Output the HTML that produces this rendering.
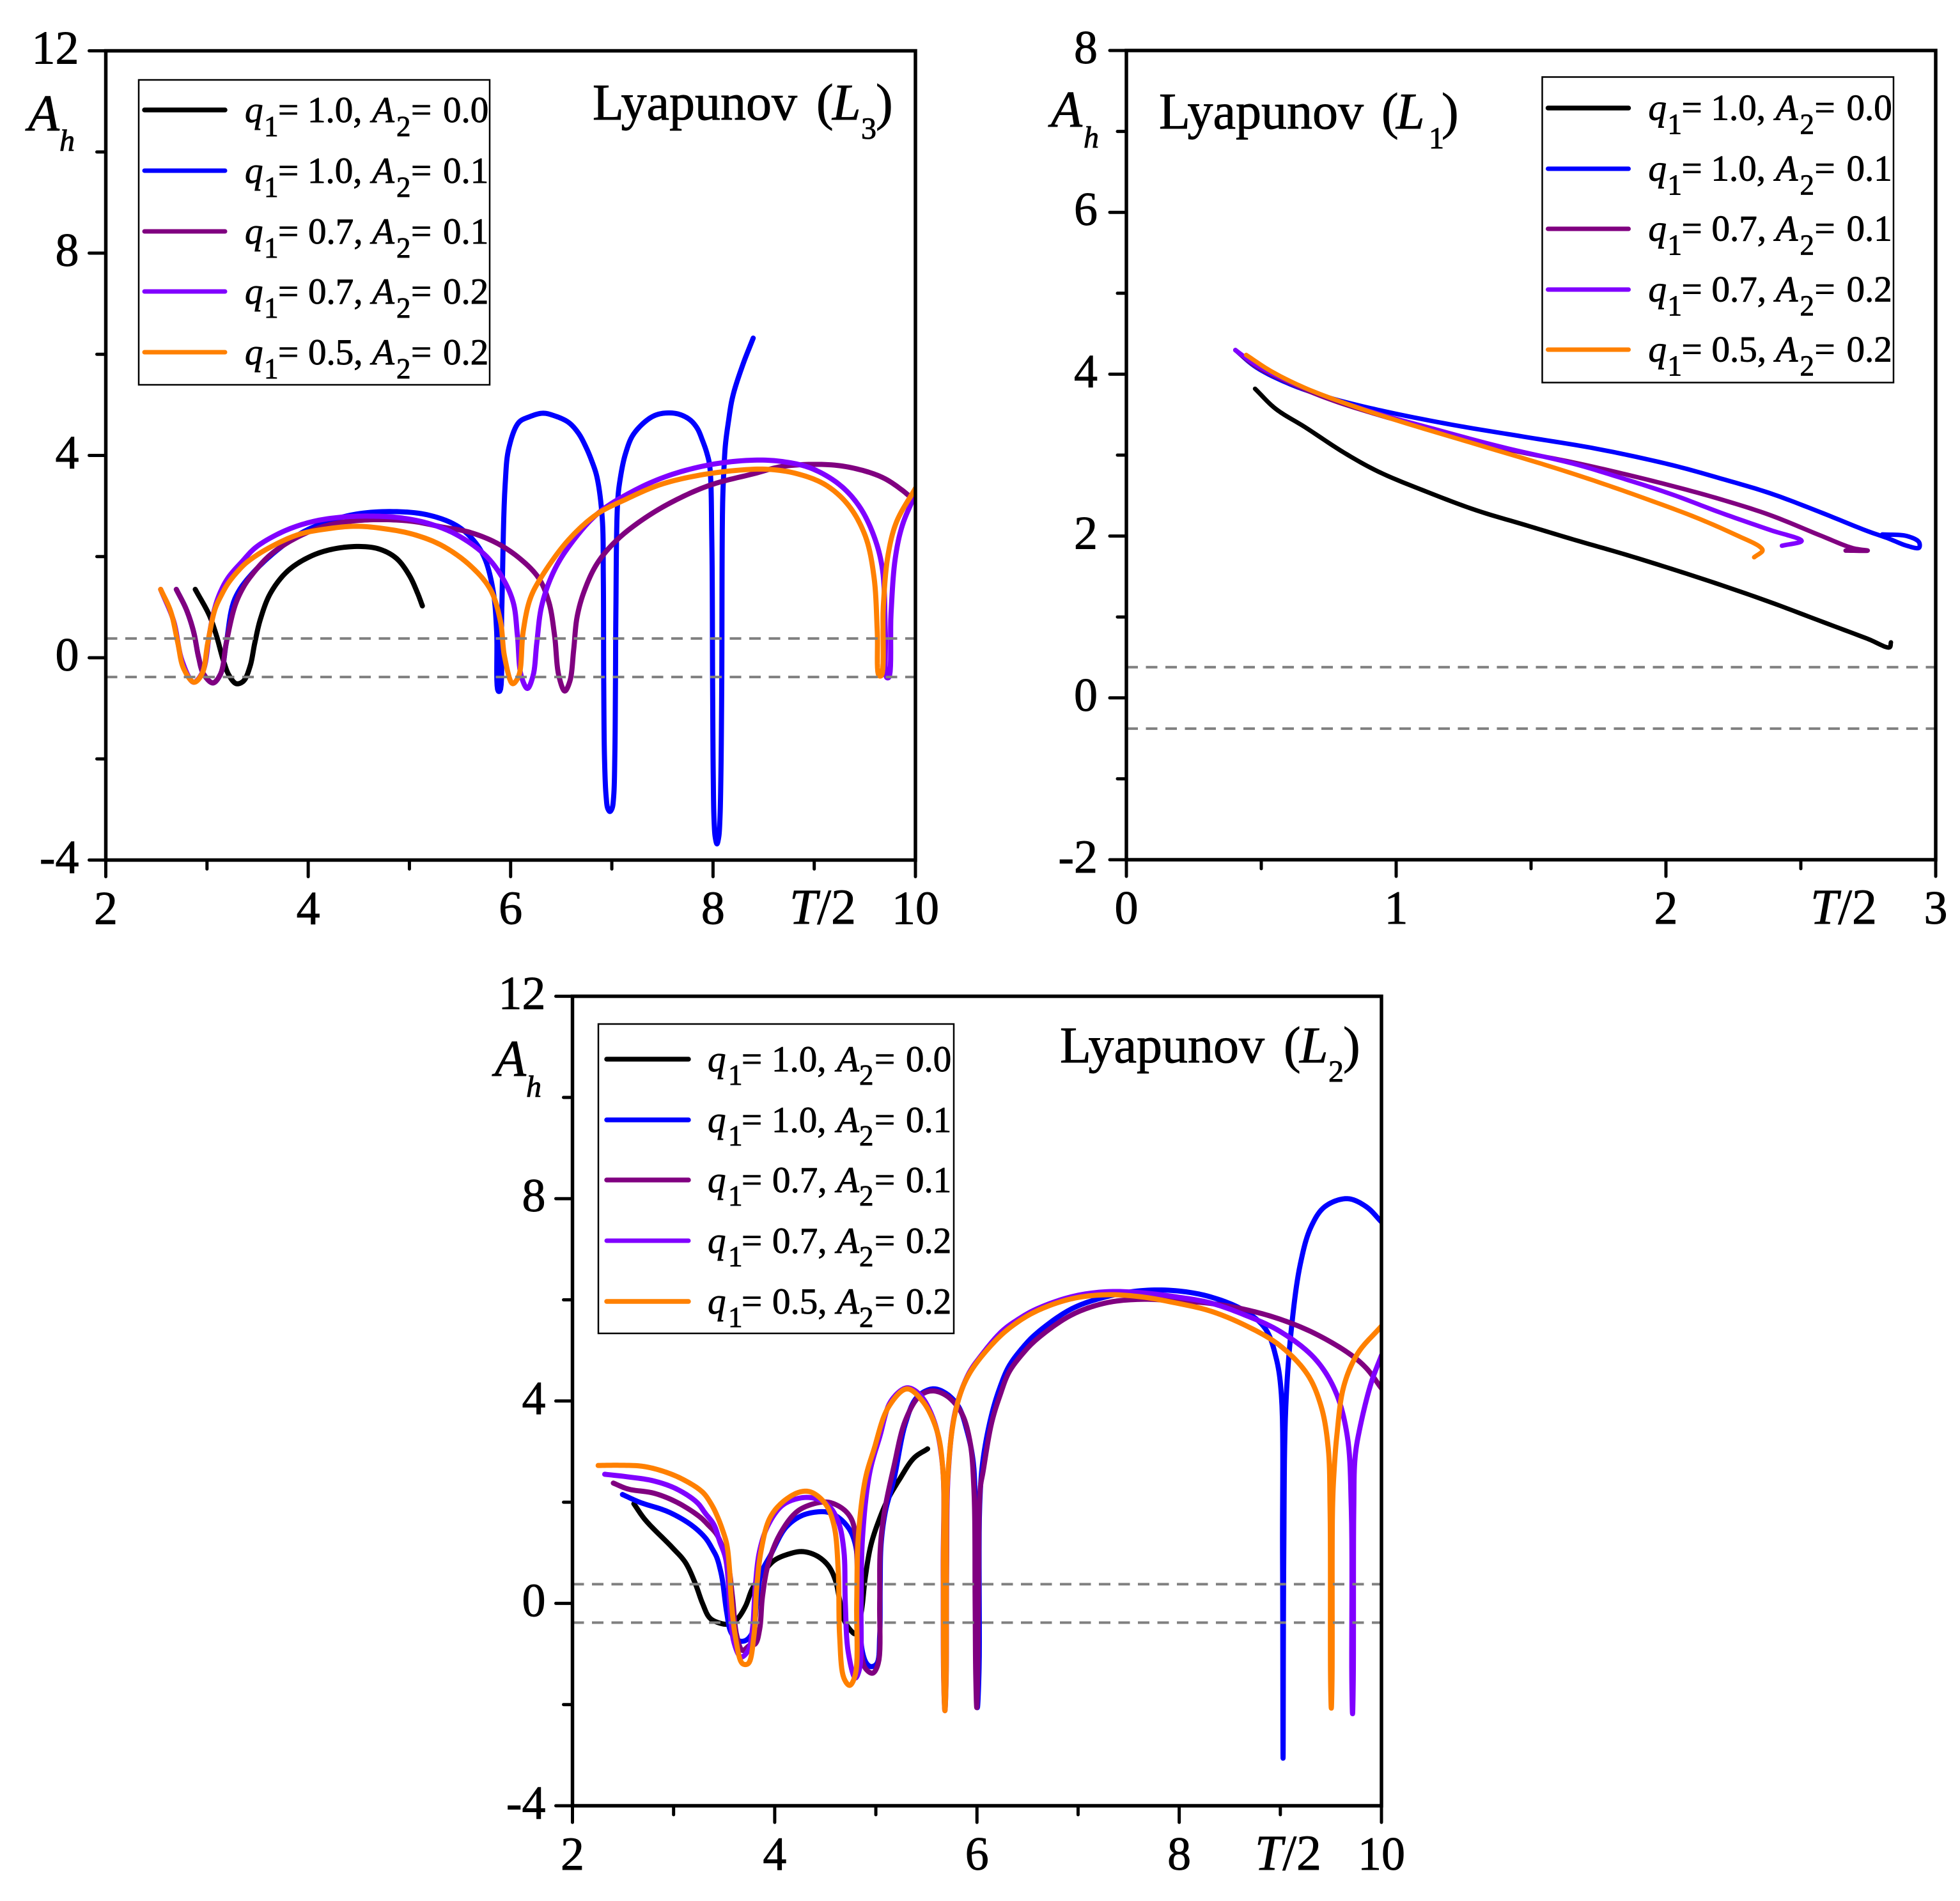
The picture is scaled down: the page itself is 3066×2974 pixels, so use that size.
<!DOCTYPE html>
<html lang="en">
<head>
<meta charset="utf-8">
<title>Lyapunov orbits amplitude charts</title>
<style>
html,body{margin:0;padding:0;background:#fff;}
svg{display:block;}
text{font-family:"Liberation Serif",serif;fill:#000;stroke:#000;stroke-width:0.9px;}
.tick{font-size:74px;}
.xt{font-size:78px;}
.lg{font-size:57px;}
.ttl{font-size:80px;}
.ah{font-size:80px;font-style:italic;}
.i{font-style:italic;}
.s{font-size:45px;}
.s48{font-size:48px;}
</style>
</head>
<body>
<svg id="figure" xmlns="http://www.w3.org/2000/svg" width="3066" height="2974" viewBox="0 0 3066 2974">
<rect x="0" y="0" width="3066" height="2974" fill="#fff"/>
<g id="panel-L3"></g>
<g id="panel-L1"></g>
<g id="panel-L2"></g>

<!-- Panel L3 static labels -->
<g>
<text class="ttl" y="187"><tspan x="927">Lyapunov</tspan><tspan x="1277">(</tspan><tspan class="i" x="1302">L</tspan><tspan class="s48" x="1347" dy="30">3</tspan><tspan x="1370" dy="-30">)</tspan></text>
<text class="ah" x="44" y="204">A</text>
<text class="ah s48" x="93" y="236">h</text>
<text class="xt" x="1235" y="1445"><tspan class="i">T</tspan>/2</text>
</g>
<g transform="translate(217,125)">
<rect x="0" y="0" width="549" height="477" fill="#fff" stroke="#000" stroke-width="2.5"/>
<line x1="9" x2="135" y1="47" y2="47" stroke="#000" stroke-width="7.5" stroke-linecap="round"/>
<text class="lg" y="66"><tspan class="i" x="166">q</tspan><tspan class="s" x="196" dy="22">1</tspan><tspan x="218" dy="-22">=</tspan><tspan x="264">1.0,</tspan><tspan class="i" x="365">A</tspan><tspan class="s" x="403" dy="22">2</tspan><tspan x="426" dy="-22">=</tspan><tspan x="476">0.0</tspan></text>
<line x1="9" x2="135" y1="142" y2="142" stroke="#0000ff" stroke-width="7" stroke-linecap="round"/>
<text class="lg" y="161"><tspan class="i" x="166">q</tspan><tspan class="s" x="196" dy="22">1</tspan><tspan x="218" dy="-22">=</tspan><tspan x="264">1.0,</tspan><tspan class="i" x="365">A</tspan><tspan class="s" x="403" dy="22">2</tspan><tspan x="426" dy="-22">=</tspan><tspan x="476">0.1</tspan></text>
<line x1="9" x2="135" y1="237" y2="237" stroke="#800080" stroke-width="7" stroke-linecap="round"/>
<text class="lg" y="256"><tspan class="i" x="166">q</tspan><tspan class="s" x="196" dy="22">1</tspan><tspan x="218" dy="-22">=</tspan><tspan x="265">0.7,</tspan><tspan class="i" x="365">A</tspan><tspan class="s" x="403" dy="22">2</tspan><tspan x="426" dy="-22">=</tspan><tspan x="476">0.1</tspan></text>
<line x1="9" x2="135" y1="331" y2="331" stroke="#8000ff" stroke-width="7" stroke-linecap="round"/>
<text class="lg" y="350"><tspan class="i" x="166">q</tspan><tspan class="s" x="196" dy="22">1</tspan><tspan x="218" dy="-22">=</tspan><tspan x="265">0.7,</tspan><tspan class="i" x="365">A</tspan><tspan class="s" x="403" dy="22">2</tspan><tspan x="426" dy="-22">=</tspan><tspan x="476">0.2</tspan></text>
<line x1="9" x2="135" y1="426" y2="426" stroke="#ff8000" stroke-width="7" stroke-linecap="round"/>
<text class="lg" y="445"><tspan class="i" x="166">q</tspan><tspan class="s" x="196" dy="22">1</tspan><tspan x="218" dy="-22">=</tspan><tspan x="265">0.5,</tspan><tspan class="i" x="365">A</tspan><tspan class="s" x="403" dy="22">2</tspan><tspan x="426" dy="-22">=</tspan><tspan x="476">0.2</tspan></text>
</g>

<!-- Panel L1 static labels -->
<g>
<text class="ttl" y="201"><tspan x="1813">Lyapunov</tspan><tspan x="2161">(</tspan><tspan class="i" x="2184">L</tspan><tspan class="s48" x="2235" dy="31">1</tspan><tspan x="2255" dy="-31">)</tspan></text>
<text class="ah" x="1644" y="198">A</text>
<text class="ah s48" x="1695" y="231">h</text>
<text class="xt" x="2832" y="1445"><tspan class="i">T</tspan>/2</text>
</g>
<g transform="translate(2412.5,120.5)">
<rect x="0" y="0" width="549.5" height="478" fill="#fff" stroke="#000" stroke-width="2.5"/>
<line x1="9" x2="135" y1="48.5" y2="48.5" stroke="#000" stroke-width="7.5" stroke-linecap="round"/>
<text class="lg" y="67"><tspan class="i" x="166">q</tspan><tspan class="s" x="196" dy="22">1</tspan><tspan x="218" dy="-22">=</tspan><tspan x="264">1.0,</tspan><tspan class="i" x="365">A</tspan><tspan class="s" x="403" dy="22">2</tspan><tspan x="426" dy="-22">=</tspan><tspan x="476">0.0</tspan></text>
<line x1="9" x2="135" y1="143.5" y2="143.5" stroke="#0000ff" stroke-width="7" stroke-linecap="round"/>
<text class="lg" y="162"><tspan class="i" x="166">q</tspan><tspan class="s" x="196" dy="22">1</tspan><tspan x="218" dy="-22">=</tspan><tspan x="264">1.0,</tspan><tspan class="i" x="365">A</tspan><tspan class="s" x="403" dy="22">2</tspan><tspan x="426" dy="-22">=</tspan><tspan x="476">0.1</tspan></text>
<line x1="9" x2="135" y1="237.5" y2="237.5" stroke="#800080" stroke-width="7" stroke-linecap="round"/>
<text class="lg" y="256"><tspan class="i" x="166">q</tspan><tspan class="s" x="196" dy="22">1</tspan><tspan x="218" dy="-22">=</tspan><tspan x="265">0.7,</tspan><tspan class="i" x="365">A</tspan><tspan class="s" x="403" dy="22">2</tspan><tspan x="426" dy="-22">=</tspan><tspan x="476">0.1</tspan></text>
<line x1="9" x2="135" y1="332.5" y2="332.5" stroke="#8000ff" stroke-width="7" stroke-linecap="round"/>
<text class="lg" y="351"><tspan class="i" x="166">q</tspan><tspan class="s" x="196" dy="22">1</tspan><tspan x="218" dy="-22">=</tspan><tspan x="265">0.7,</tspan><tspan class="i" x="365">A</tspan><tspan class="s" x="403" dy="22">2</tspan><tspan x="426" dy="-22">=</tspan><tspan x="476">0.2</tspan></text>
<line x1="9" x2="135" y1="426.5" y2="426.5" stroke="#ff8000" stroke-width="7" stroke-linecap="round"/>
<text class="lg" y="445"><tspan class="i" x="166">q</tspan><tspan class="s" x="196" dy="22">1</tspan><tspan x="218" dy="-22">=</tspan><tspan x="265">0.5,</tspan><tspan class="i" x="365">A</tspan><tspan class="s" x="403" dy="22">2</tspan><tspan x="426" dy="-22">=</tspan><tspan x="476">0.2</tspan></text>
</g>

<!-- Panel L2 static labels -->
<g>
<text class="ttl" y="1662"><tspan x="1658">Lyapunov</tspan><tspan x="2008">(</tspan><tspan class="i" x="2033">L</tspan><tspan class="s48" x="2078" dy="30">2</tspan><tspan x="2101" dy="-30">)</tspan></text>
<text class="ah" x="774" y="1683">A</text>
<text class="ah s48" x="823" y="1716">h</text>
<text class="xt" x="1963" y="2925"><tspan class="i">T</tspan>/2</text>
</g>
<g transform="translate(936,1602)">
<rect x="0" y="0" width="556" height="484" fill="#fff" stroke="#000" stroke-width="2.5"/>
<line x1="13" x2="141" y1="55" y2="55" stroke="#000" stroke-width="7.5" stroke-linecap="round"/>
<text class="lg" y="74"><tspan class="i" x="171">q</tspan><tspan class="s" x="203" dy="21">1</tspan><tspan x="224" dy="-21">=</tspan><tspan x="271">1.0,</tspan><tspan class="i" x="373">A</tspan><tspan class="s" x="408" dy="21">2</tspan><tspan x="432" dy="-21">=</tspan><tspan x="481">0.0</tspan></text>
<line x1="13" x2="141" y1="150" y2="150" stroke="#0000ff" stroke-width="7.5" stroke-linecap="round"/>
<text class="lg" y="169"><tspan class="i" x="171">q</tspan><tspan class="s" x="203" dy="21">1</tspan><tspan x="224" dy="-21">=</tspan><tspan x="271">1.0,</tspan><tspan class="i" x="373">A</tspan><tspan class="s" x="408" dy="21">2</tspan><tspan x="432" dy="-21">=</tspan><tspan x="481">0.1</tspan></text>
<line x1="13" x2="141" y1="244" y2="244" stroke="#800080" stroke-width="7.5" stroke-linecap="round"/>
<text class="lg" y="263"><tspan class="i" x="171">q</tspan><tspan class="s" x="203" dy="21">1</tspan><tspan x="224" dy="-21">=</tspan><tspan x="272">0.7,</tspan><tspan class="i" x="373">A</tspan><tspan class="s" x="408" dy="21">2</tspan><tspan x="432" dy="-21">=</tspan><tspan x="481">0.1</tspan></text>
<line x1="13" x2="141" y1="339" y2="339" stroke="#8000ff" stroke-width="7" stroke-linecap="round"/>
<text class="lg" y="358"><tspan class="i" x="171">q</tspan><tspan class="s" x="203" dy="21">1</tspan><tspan x="224" dy="-21">=</tspan><tspan x="272">0.7,</tspan><tspan class="i" x="373">A</tspan><tspan class="s" x="408" dy="21">2</tspan><tspan x="432" dy="-21">=</tspan><tspan x="481">0.2</tspan></text>
<line x1="13" x2="141" y1="434" y2="434" stroke="#ff8000" stroke-width="7.5" stroke-linecap="round"/>
<text class="lg" y="453"><tspan class="i" x="171">q</tspan><tspan class="s" x="203" dy="21">1</tspan><tspan x="224" dy="-21">=</tspan><tspan x="272">0.5,</tspan><tspan class="i" x="373">A</tspan><tspan class="s" x="408" dy="21">2</tspan><tspan x="432" dy="-21">=</tspan><tspan x="481">0.2</tspan></text>
</g>
</svg>

<script>
/* ---------- Tick values ---------- */
const xMajor10 = [2, 4, 6, 8, 10];
const xMinor10 = [3, 5, 7, 9];
const yMajor12 = [-4, 0, 4, 8, 12];
const yMinor12 = [-2, 2, 6, 10];
const xMajor3 = [0, 1, 2, 3];
const xMinor3 = [0.5, 1.5, 2.5];
const yMajor8 = [-2, 0, 2, 4, 6, 8];
const yMinor8 = [-1, 1, 3, 5, 7];
const thresholdValues = [0.38, -0.38];

/* ---------- Panel L3 series ---------- */
const L3_black_T = [2.884,3.022,3.092,3.163,3.219,3.29,3.36,3.425,3.473,3.529,3.628,3.797,4.023,4.248,4.502,4.70,4.869,4.996,5.08,5.128];
const L3_black_A = [1.352,0.844,0.445,-0.063,-0.353,-0.513,-0.462,-0.172,0.30,0.772,1.28,1.715,2.005,2.15,2.2,2.15,1.97,1.64,1.28,1.026];

const L3_blue_T = [2.697,2.796,2.867,2.917,2.965,3.058,3.135,3.191,3.276,3.487,3.91,4.192,4.474,4.84,5.18,5.46,5.63,5.743,5.828,5.862,5.878,5.893,5.912,5.946,5.983,6.08,6.18,6.318,6.431,6.572,6.67,6.741,6.8,6.854,6.905,6.916,6.92,6.928,6.944,6.96,6.981,7.002,7.018,7.03,7.036,7.04,7.057,7.08,7.136,7.22,7.418,7.615,7.757,7.84,7.897,7.94,7.968,7.988,7.996,8.002,8.01,8.022,8.039,8.056,8.068,8.078,8.086,8.095,8.109,8.123,8.151,8.194,8.292,8.397];
const L3_blue_A = [1.352,0.953,0.518,0.01,-0.317,-0.498,-0.317,0.30,1.17,1.75,2.44,2.69,2.84,2.89,2.825,2.62,2.33,1.97,1.315,0.52,-0.66,-0.66,0.88,3.42,4.15,4.65,4.76,4.835,4.785,4.654,4.44,4.18,3.9,3.565,2.77,1.6,-0.5,-2.0,-2.75,-2.98,-3.04,-2.98,-2.75,-1.9,-0.5,0.88,3.06,3.5,4.04,4.436,4.785,4.835,4.727,4.55,4.29,4.04,3.78,2.33,-0.57,-2.3,-3.2,-3.55,-3.68,-3.55,-3.2,-2.3,-0.57,3.06,3.78,4.22,4.65,5.16,5.78,6.32];

const L3_purple_T = [2.697,2.796,2.867,2.917,2.965,3.058,3.135,3.191,3.276,3.35,3.431,3.628,3.91,4.192,4.474,4.756,5.038,5.32,5.602,5.884,6.11,6.279,6.378,6.434,6.476,6.535,6.586,6.623,6.657,6.727,6.854,7.051,7.333,7.644,7.982,8.405,8.687,9.11,9.392,9.674,9.871,9.998];
const L3_purple_A = [1.352,0.953,0.518,0.01,-0.317,-0.498,-0.317,0.30,1.026,1.36,1.606,2.04,2.40,2.62,2.71,2.73,2.695,2.586,2.477,2.245,1.93,1.57,1.1,0.445,-0.353,-0.658,-0.46,0.155,0.808,1.316,1.86,2.33,2.77,3.13,3.42,3.64,3.783,3.82,3.747,3.565,3.31,3.09];

const L3_violet_T = [2.542,2.669,2.754,2.867,2.957,3.022,3.064,3.12,3.205,3.346,3.487,3.769,4.051,4.333,4.615,4.897,5.18,5.46,5.743,5.912,6.025,6.067,6.104,6.166,6.222,6.259,6.307,6.42,6.572,6.854,7.192,7.559,7.982,8.405,8.687,8.969,9.251,9.448,9.59,9.674,9.702,9.716,9.736,9.759,9.801,9.871,10];
const L3_violet_A = [1.352,0.735,-0.063,-0.484,-0.28,0.445,0.88,1.24,1.57,1.9,2.19,2.51,2.695,2.78,2.80,2.77,2.66,2.44,2.04,1.606,1.1,0.445,-0.353,-0.607,-0.353,0.30,1.026,1.68,2.19,2.84,3.275,3.6,3.82,3.907,3.878,3.747,3.42,2.985,2.405,1.75,0.517,-0.39,-0.39,0.88,1.97,2.62,3.24];

const L3_orange_T = [2.542,2.641,2.711,2.768,2.872,2.951,3.008,3.078,3.14,3.205,3.30,3.402,3.628,3.91,4.192,4.474,4.756,5.038,5.32,5.602,5.8,5.898,5.941,6.02,6.081,6.124,6.194,6.307,6.572,6.854,7.136,7.474,7.841,8.264,8.546,8.828,9.11,9.336,9.505,9.59,9.623,9.64,9.663,9.683,9.73,9.815,10];
const L3_orange_A = [1.352,0.917,0.30,-0.208,-0.484,-0.317,0.30,0.953,1.23,1.46,1.70,1.9,2.19,2.44,2.55,2.6,2.55,2.44,2.22,1.82,1.35,0.735,0.01,-0.513,-0.353,0.518,1.17,1.606,2.33,2.84,3.13,3.42,3.6,3.71,3.725,3.64,3.42,3.02,2.405,1.606,0.517,-0.353,-0.353,1.026,2.04,2.695,3.35];

/* ---------- Panel L1 series ---------- */
const L1_black_T = [0.477,0.553,0.662,0.807,0.934,1.115,1.297,1.478,1.659,1.841,2.022,2.203,2.385,2.566,2.747,2.829,2.834];
const L1_black_A = [3.82,3.573,3.346,3.03,2.796,2.545,2.318,2.137,1.955,1.78,1.593,1.396,1.185,0.958,0.731,0.625,0.686];

const L1_blue_T = [0.404,0.48,0.607,0.753,0.934,1.206,1.478,1.75,2.022,2.203,2.385,2.566,2.747,2.82,2.893,2.938,2.938,2.893,2.802];
const L1_blue_A = [4.298,4.087,3.875,3.709,3.558,3.376,3.225,3.074,2.877,2.711,2.53,2.303,2.061,1.976,1.88,1.855,1.925,2.0,2.02];

const L1_purple_T = [0.404,0.48,0.607,0.753,0.934,1.115,1.387,1.659,1.841,2.022,2.203,2.385,2.566,2.693,2.748,2.666];
const L1_purple_A = [4.298,4.1,3.89,3.69,3.497,3.33,3.09,2.908,2.77,2.62,2.454,2.26,2.016,1.85,1.82,1.82];

const L1_violet_T = [0.404,0.48,0.607,0.753,0.934,1.115,1.387,1.659,1.841,2.022,2.203,2.385,2.503,2.43];
const L1_violet_A = [4.298,4.117,3.905,3.709,3.512,3.346,3.104,2.892,2.711,2.515,2.288,2.076,1.94,1.88];

const L1_orange_T = [0.444,0.535,0.662,0.843,1.025,1.297,1.569,1.75,1.931,2.113,2.258,2.349,2.358,2.327];
const L1_orange_A = [4.238,4.04,3.83,3.603,3.406,3.134,2.862,2.666,2.454,2.227,2.016,1.865,1.82,1.738];

/* ---------- Panel L2 series ---------- */
const L2_black_T = [2.607,2.72,2.989,3.116,3.215,3.286,3.356,3.441,3.54,3.625,3.71,3.78,3.879,3.992,4.133,4.274,4.416,4.529,4.6,4.642,4.684,4.755,4.797,4.854,4.896,4.953,5.038,5.122,5.235,5.377,5.512];
const L2_black_A = [1.97,1.65,1.1,0.81,0.39,0.0,-0.284,-0.38,-0.41,-0.317,-0.06,0.296,0.586,0.844,0.972,1.024,0.94,0.747,0.457,0.07,-0.317,-0.542,-0.6,-0.19,0.52,1.166,1.68,2.07,2.455,2.874,3.054];

const L2_blue_T = [2.494,2.664,2.947,3.173,3.314,3.385,3.427,3.46,3.483,3.526,3.568,3.639,3.71,3.78,3.823,3.865,3.964,4.105,4.246,4.388,4.529,4.642,4.741,4.797,4.826,4.84,4.868,4.91,4.953,5.01,5.038,5.043,5.052,5.094,5.179,5.292,5.405,5.56,5.687,5.815,5.9,5.964,5.984,5.99,6.004,6.021,6.027,6.06,6.145,6.231,6.317,6.454,6.591,6.934,7.277,7.62,7.963,8.306,8.649,8.855,8.958,9.01,9.022,9.027,9.034,9.054,9.113,9.198,9.301,9.439,9.662,9.85,10];
const L2_blue_A = [2.152,2.0,1.81,1.553,1.295,1.07,0.908,0.68,0.457,-0.187,-0.574,-0.735,-0.735,-0.574,0.006,0.586,0.973,1.488,1.714,1.8,1.8,1.68,1.456,1.166,0.65,-0.32,-0.96,-1.19,-1.25,-1.19,-0.64,0.33,1.166,1.81,2.455,3.55,4.07,4.24,4.16,3.9,3.42,2.78,1.29,-1.28,-2.06,-1.28,1.94,2.84,3.73,4.29,4.69,5.06,5.34,5.82,6.06,6.18,6.18,6.06,5.78,5.42,4.855,4.13,1.0,-3.06,1.0,3.89,5.5,6.71,7.43,7.84,8.0,7.84,7.54];

const L2_purple_T = [2.404,2.551,2.805,3.031,3.257,3.342,3.427,3.498,3.54,3.582,3.625,3.681,3.752,3.808,3.851,3.879,3.936,4.049,4.218,4.388,4.529,4.67,4.755,4.797,4.826,4.854,4.896,4.967,5.023,5.038,5.043,5.08,5.179,5.292,5.433,5.56,5.702,5.843,5.928,5.97,5.982,5.988,5.998,6.008,6.014,6.032,6.06,6.145,6.231,6.317,6.454,6.591,6.934,7.277,7.62,7.963,8.306,8.649,8.993,9.336,9.679,9.85,10];
const L2_purple_A = [2.378,2.26,2.178,2.0,1.714,1.55,1.36,1.04,0.78,0.135,-0.64,-0.93,-0.83,-0.8,-0.51,0.135,0.78,1.36,1.81,1.97,2.0,1.875,1.68,1.36,0.005,-0.96,-1.28,-1.38,-1.19,0.005,1.04,1.75,2.71,3.615,4.1,4.2,4.1,3.78,3.23,2.26,0.005,-1.4,-2.06,-1.4,0.005,2.26,2.6,3.57,4.13,4.57,4.94,5.22,5.7,5.94,6.01,5.98,5.93,5.81,5.62,5.34,4.94,4.65,4.25];

const L2_violet_T = [2.319,2.551,2.805,3.031,3.229,3.314,3.399,3.455,3.512,3.54,3.554,3.597,3.667,3.738,3.78,3.808,3.851,3.936,4.077,4.246,4.388,4.529,4.628,4.684,4.698,4.727,4.797,4.84,4.854,4.868,4.939,5.038,5.15,5.306,5.433,5.574,5.66,5.666,5.671,5.683,5.695,5.70,5.716,5.786,5.913,6.042,6.248,6.42,6.591,6.934,7.277,7.62,7.963,8.306,8.649,8.993,9.336,9.541,9.661,9.702,9.707,9.714,9.721,9.726,9.74,9.788,9.9,10];
const L2_violet_A = [2.552,2.5,2.42,2.26,2.0,1.78,1.553,1.23,0.908,0.457,0.006,-0.77,-1.06,-0.93,-0.51,0.33,1.04,1.553,1.94,2.08,2.08,1.94,1.617,1.04,0.006,-0.96,-1.475,-1.28,0.006,1.295,2.58,3.29,4.0,4.26,4.13,3.615,2.71,0.65,-1.5,-2.12,-1.5,0.65,2.58,3.8,4.52,4.9,5.38,5.63,5.82,6.06,6.16,6.14,6.06,5.94,5.7,5.38,4.85,4.21,3.32,1.87,-1.5,-2.18,-1.5,1.87,2.9,3.48,4.37,4.9];

const L2_orange_T = [2.254,2.466,2.692,2.89,3.088,3.286,3.37,3.427,3.483,3.526,3.554,3.568,3.61,3.681,3.738,3.794,3.823,3.865,3.95,4.077,4.246,4.359,4.5,4.585,4.628,4.642,4.684,4.741,4.797,4.811,4.826,4.896,4.981,5.122,5.306,5.461,5.603,5.665,5.668,5.672,5.683,5.694,5.698,5.71,5.786,5.913,6.168,6.36,6.591,6.934,7.277,7.62,7.963,8.306,8.649,8.993,9.267,9.404,9.473,9.492,9.497,9.504,9.511,9.516,9.531,9.559,9.627,9.765,10];
const L2_orange_A = [2.726,2.73,2.71,2.616,2.455,2.2,1.97,1.746,1.456,1.166,0.65,0.135,-0.64,-1.19,-1.19,-0.64,0.33,1.04,1.68,2.0,2.2,2.2,1.97,1.553,0.65,-0.64,-1.475,-1.62,-1.41,0.006,1.295,2.455,3.04,3.87,4.24,4.0,3.42,2.58,0.65,-1.5,-2.12,-1.5,0.65,2.455,3.78,4.5,5.16,5.5,5.78,6.02,6.1,6.06,5.94,5.78,5.5,5.1,4.53,3.89,3.08,1.87,-1.5,-2.07,-1.5,1.87,2.6,3.32,4.29,4.94,5.48];

/* ---------- Series styling (order = drawing order) ---------- */
const seriesNames = ['q1-1.0-a2-0.0', 'q1-1.0-a2-0.1', 'q1-0.7-a2-0.1', 'q1-0.7-a2-0.2', 'q1-0.5-a2-0.2'];
const seriesColors = ['#000000', '#0000ff', '#800080', '#8000ff', '#ff8000'];

const SVGNS = 'http://www.w3.org/2000/svg';

/* Centripetal Catmull-Rom through pixel points */
function smoothPath(pts) {
  let d = 'M' + pts[0][0].toFixed(2) + ' ' + pts[0][1].toFixed(2);
  const n = pts.length;
  for (let i = 0; i < n - 1; i++) {
    const p1 = pts[i], p2 = pts[i + 1];
    const p0 = i > 0 ? pts[i - 1] : [2 * p1[0] - p2[0], 2 * p1[1] - p2[1]];
    const p3 = i + 2 < n ? pts[i + 2] : [2 * p2[0] - p1[0], 2 * p2[1] - p1[1]];
    const gap = (a, b) => Math.max(Math.sqrt(Math.hypot(a[0] - b[0], a[1] - b[1])), 1e-3);
    const t0 = 0, t1 = t0 + gap(p0, p1), t2 = t1 + gap(p1, p2), t3 = t2 + gap(p2, p3);
    const mix = (a, b, ta, tb, t) => [
      ((tb - t) * a[0] + (t - ta) * b[0]) / (tb - ta),
      ((tb - t) * a[1] + (t - ta) * b[1]) / (tb - ta)
    ];
    const steps = 10;
    for (let k = 1; k <= steps; k++) {
      const t = t1 + (t2 - t1) * k / steps;
      const a1 = mix(p0, p1, t0, t1, t);
      const a2 = mix(p1, p2, t1, t2, t);
      const a3 = mix(p2, p3, t2, t3, t);
      const b1 = mix(a1, a2, t0, t2, t);
      const b2 = mix(a2, a3, t1, t3, t);
      const c = mix(b1, b2, t1, t2, t);
      d += 'L' + c[0].toFixed(2) + ' ' + c[1].toFixed(2);
    }
  }
  return d;
}

function drawPanel(cfg) {
  const host = document.getElementById(cfg.host);
  const xScale = v => cfg.left + (v - cfg.xMin) / (cfg.xMax - cfg.xMin) * (cfg.right - cfg.left);
  const yScale = v => cfg.bottom - (v - cfg.yMin) / (cfg.yMax - cfg.yMin) * (cfg.bottom - cfg.top);

  /* series */
  cfg.series.forEach((s, i) => {
    const pts = [];
    const len = Math.min(s.T.length, s.A.length);
    for (let j = 0; j < len; j++) pts.push([xScale(s.T[j]), yScale(s.A[j])]);
    const path = document.createElementNS(SVGNS, 'path');
    
    
    path.setAttribute('d', smoothPath(pts));
    path.setAttribute('fill', 'none');
    path.setAttribute('stroke', seriesColors[i]);
    path.setAttribute('stroke-width', cfg.lineWidth);
    path.setAttribute('stroke-linecap', 'round');
    path.setAttribute('stroke-linejoin', 'round');
    path.setAttribute('clip-path', 'url(#clip-' + cfg.host + ')');
    host.appendChild(path);
  });

  /* dashed thresholds */
  thresholdValues.forEach(v => {
    const dash = document.createElementNS(SVGNS, 'line');
    
    
    dash.setAttribute('x1', cfg.left);
    dash.setAttribute('x2', cfg.right);
    dash.setAttribute('y1', yScale(v));
    dash.setAttribute('y2', yScale(v));
    dash.setAttribute('stroke', '#808080');
    dash.setAttribute('stroke-width', 4);
    dash.setAttribute('stroke-dasharray', '18 12.5');
    host.appendChild(dash);
  });

  /* frame */
  const frame = document.createElementNS(SVGNS, 'rect');
  
  
  frame.setAttribute('x', cfg.left);
  frame.setAttribute('y', cfg.top);
  frame.setAttribute('width', cfg.right - cfg.left);
  frame.setAttribute('height', cfg.bottom - cfg.top);
  frame.setAttribute('fill', 'none');
  frame.setAttribute('stroke', '#000');
  frame.setAttribute('stroke-width', 5.5);
  host.appendChild(frame);

  /* ticks */
  const addTick = (x1, y1, x2, y2, kind) => {
    const t = document.createElementNS(SVGNS, 'line');
    
    
    t.setAttribute('x1', x1);
    t.setAttribute('y1', y1);
    t.setAttribute('x2', x2);
    t.setAttribute('y2', y2);
    t.setAttribute('stroke', '#000');
    t.setAttribute('stroke-width', 5);
    t.setAttribute('stroke-linecap', 'round');
    host.appendChild(t);
  };
  const addLabel = (x, y, str, anchor, kind) => {
    const t = document.createElementNS(SVGNS, 'text');
    
    
    t.setAttribute('class', 'tick');
    t.setAttribute('x', x);
    t.setAttribute('y', y);
    t.setAttribute('text-anchor', anchor);
    t.textContent = str;
    host.appendChild(t);
  };
  cfg.xMajor.forEach(v => {
    addTick(xScale(v), cfg.bottom, xScale(v), cfg.bottom + 26, 'x-major-tick');
    addLabel(xScale(v), cfg.bottom + 100, String(v), 'middle', 'x-tick-label');
  });
  cfg.xMinor.forEach(v => addTick(xScale(v), cfg.bottom, xScale(v), cfg.bottom + 14, 'x-minor-tick'));
  cfg.yMajor.forEach(v => {
    addTick(cfg.left - 26, yScale(v), cfg.left, yScale(v), 'y-major-tick');
    addLabel(cfg.left - cfg.labelGap, yScale(v) + 20, String(v), 'end', 'y-tick-label');
  });
  cfg.yMinor.forEach(v => addTick(cfg.left - 14, yScale(v), cfg.left, yScale(v), 'y-minor-tick'));
}

function addClip(id, x, y, w, h) {
  const svg = document.getElementById('figure');
  const cp = document.createElementNS(SVGNS, 'clipPath');
  cp.setAttribute('id', 'clip-' + id);
  const r = document.createElementNS(SVGNS, 'rect');
  r.setAttribute('x', x);
  r.setAttribute('y', y);
  r.setAttribute('width', w);
  r.setAttribute('height', h);
  cp.appendChild(r);
  svg.insertBefore(cp, svg.firstChild);
}

addClip('panel-L3', 165.5, 79.5, 1266.5, 1266);
addClip('panel-L1', 1762, 79, 1266, 1266);
addClip('panel-L2', 895.5, 1558.6, 1265.5, 1266.4);

drawPanel({
  host: 'panel-L3', left: 165.5, right: 1432, top: 79.5, bottom: 1345.5,
  xMin: 2, xMax: 10, yMin: -4, yMax: 12, lineWidth: 8, labelGap: 42,
  xMajor: xMajor10, xMinor: xMinor10, yMajor: yMajor12, yMinor: yMinor12,
  series: [
    {T: L3_black_T, A: L3_black_A},
    {T: L3_blue_T, A: L3_blue_A},
    {T: L3_purple_T, A: L3_purple_A},
    {T: L3_violet_T, A: L3_violet_A},
    {T: L3_orange_T, A: L3_orange_A}
  ]
});
drawPanel({
  host: 'panel-L1', left: 1762, right: 3028, top: 79, bottom: 1345,
  xMin: 0, xMax: 3, yMin: -2, yMax: 8, lineWidth: 7, labelGap: 45,
  xMajor: xMajor3, xMinor: xMinor3, yMajor: yMajor8, yMinor: yMinor8,
  series: [
    {T: L1_black_T, A: L1_black_A},
    {T: L1_blue_T, A: L1_blue_A},
    {T: L1_purple_T, A: L1_purple_A},
    {T: L1_violet_T, A: L1_violet_A},
    {T: L1_orange_T, A: L1_orange_A}
  ]
});
drawPanel({
  host: 'panel-L2', left: 895.5, right: 2161, top: 1558.6, bottom: 2825,
  xMin: 2, xMax: 10, yMin: -4, yMax: 12, lineWidth: 8, labelGap: 42,
  xMajor: xMajor10, xMinor: xMinor10, yMajor: yMajor12, yMinor: yMinor12,
  series: [
    {T: L2_black_T, A: L2_black_A},
    {T: L2_blue_T, A: L2_blue_A},
    {T: L2_purple_T, A: L2_purple_A},
    {T: L2_violet_T, A: L2_violet_A},
    {T: L2_orange_T, A: L2_orange_A}
  ]
});
</script>
</body>
</html>
